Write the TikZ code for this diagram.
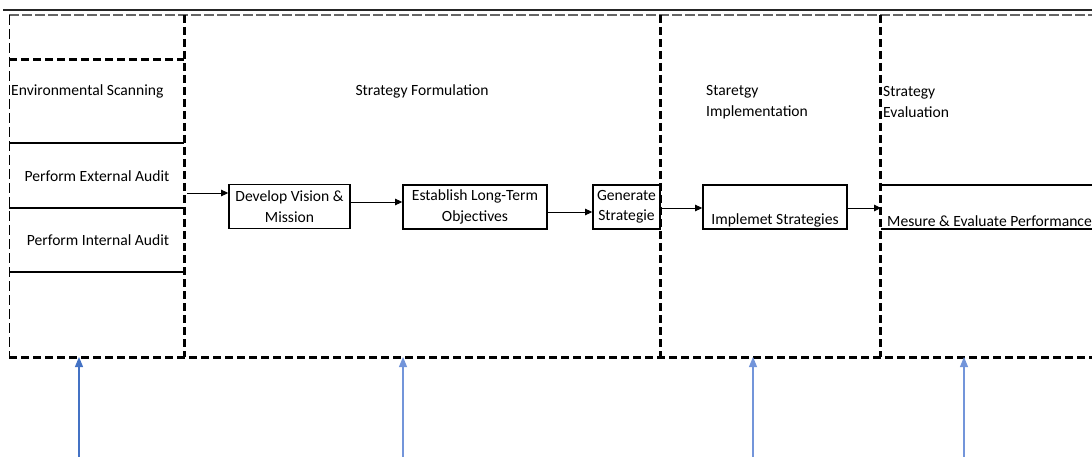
\documentclass[tikz,border=0pt]{standalone}
\usepackage{fontspec}
\setmainfont{Carlito}
\usetikzlibrary{arrows.meta,calc}
\definecolor{bluedark}{HTML}{4472C4}
\definecolor{bluelight}{HTML}{7395DA}
\begin{document}
\begin{tikzpicture}[x=1pt,y=-1pt,
  every node/.style={font=\fontsize{15.6}{20.5}\selectfont, inner sep=0pt},
  stepbox/.style={draw, line width=1.7pt, minimum height=44pt, align=center},
  conn/.style={line width=0.9pt, -{Triangle[length=7pt,width=6.5pt]}},
  feed/.style={line width=1.1pt, -{Triangle[length=10pt,width=8pt]}},
  thickdash/.style={line width=3pt, dash pattern=on 8pt off 4pt},
  thindash/.style={line width=0.9pt, dash pattern=on 10pt off 4pt},
  topdash/.style={line width=1.3pt, gray!80!black, dash pattern=on 10pt off 3pt},
  cellline/.style={line width=1.1pt}]
\useasboundingbox (0,0) rectangle (1092,457);
\clip (0,0) rectangle (1092,457);

% frame of the stages
\draw[line width=1.3pt, black!85] (3,10) -- (1100,10);
\draw[topdash] (9,15) -- (1100,15);
\draw[thindash] (9,15) -- (9,357);
\draw[thickdash] (9,60) -- (184,60);
\draw[thickdash] (9,357) -- (1100,357);
\draw[thickdash] (184,15) -- (184,357);
\draw[thickdash] (660,15) -- (660,357);
\draw[thickdash] (880,15) -- (880,357);

% cells of the scanning column
\draw[cellline] (9,143) -- (184,143);
\draw[cellline] (9,208) -- (184,208);
\draw[cellline] (9,272) -- (184,272);

% stage titles
\node[anchor=west] (scan) at (11,91) {Environmental Scanning};
\node (form) at (422,91) {Strategy Formulation};
\node[anchor=west, align=left] (impl) at (706,102) {Staretgy\\Implementation};
\node[anchor=west, align=left] (eval) at (883,102) {Strategy\\Evaluation};

% audits
\node (ext) at (97,176) {Perform External Audit};
\node (int) at (98,240) {Perform Internal Audit};

% process boxes
\node[stepbox, minimum width=121pt] (dev) at (289.5,206.5) {Develop Vision \&\\Mission};
\node[stepbox, minimum width=144pt] (est) at (475,207) {Establish Long-Term\\Objectives};
\node[stepbox, minimum width=67pt] (gen) at (626.5,207) {Generate\\Strategie};
\node[stepbox, minimum width=144pt] (imp) at (775,207) {};
\node[anchor=south] (imptext) at ($(imp.south)+(0,-2)$) {Implemet Strategies};
\node[minimum width=260pt, minimum height=44pt, anchor=west] (mes) at (881,207) {};
\draw[line width=1.7pt] (mes.north west) -- (mes.north east);
\draw[line width=1.7pt] (mes.south west) -- (mes.south east);
\node[anchor=south west] (mestext) at ($(mes.south west)+(6,-2)$) {Mesure \& Evaluate Performance};

% flow between the stages
\coordinate (scanout) at (187,193);
\draw[conn] (scanout) -- (dev.west |- scanout);
\draw[conn] (dev.east |- 0,202) -- (est.west |- 0,202);
\draw[conn] (est.east |- 0,212) -- (gen.west |- 0,212);
\draw[conn] (gen.east |- 0,208) -- (imp.west |- 0,208);
\draw[conn] (imp.east |- 0,208) -- (mes.west |- 0,208);

% inputs from below
\coordinate (in1) at (79,457);
\coordinate (in2) at (403,457);
\coordinate (in3) at (753,457);
\coordinate (in4) at (964,457);
\draw[feed, bluedark] (in1) -- (79,357);
\draw[feed, bluelight] (in2) -- (403,357);
\draw[feed, bluelight] (in3) -- (753,357);
\draw[feed, bluelight] (in4) -- (964,357);
\end{tikzpicture}
\end{document}
